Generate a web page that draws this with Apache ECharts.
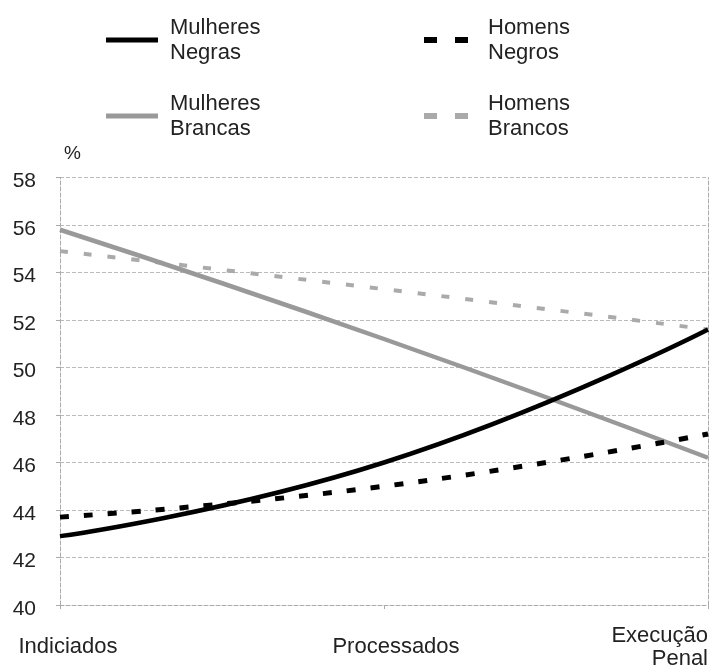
<!DOCTYPE html>
<html>
<head>
<meta charset="utf-8">
<script src="https://cdn.jsdelivr.net/npm/echarts@6/dist/echarts.min.js"></script>
<style>html,body{margin:0;padding:0;background:#fff}#c{width:710px;height:668px}</style>
</head>
<body>
<div id="c"></div>
<script>
var categories = ['Indiciados', 'Processados', 'Execução\nPenal'];
var yTicks = [40, 42, 44, 46, 48, 50, 52, 54, 56, 58];
var mulheresNegras = [42.9, 46.0, 51.6];
var homensNegros = [43.7, 45.0, 47.2];
var mulheresBrancas = [55.8, 51.2, 46.2];
var homensBrancos = [54.9, 53.3, 51.6];

var FONT = "'Liberation Sans', Arial, sans-serif";
var TXT = '#222';
var SOLID_ICON = 'path://M0,0H52V5H0Z';
var DASH_ICON = 'path://M0,0H13V6H0Z M31,0H44V6H31Z';
var chart = echarts.init(document.getElementById('c'));

function legendAt(name, left, top, w, h, pad, icon) {
  return {
    data: [{ name: name, icon: icon }], left: left, top: top, orient: 'vertical', padding: 0,
    itemWidth: w, itemHeight: h, selectedMode: false,
    textStyle: { fontFamily: FONT, fontSize: 22, lineHeight: 25, color: TXT, padding: [0, 0, 0, pad] }
  };
}

chart.setOption({
  animation: false,
  backgroundColor: '#fff',
  legend: [
    legendAt('Mulheres\nNegras', 106, 15, 52, 5, 7, SOLID_ICON),
    legendAt('Homens\nNegros', 424, 15, 44, 6, 15, DASH_ICON),
    legendAt('Mulheres\nBrancas', 106, 91, 52, 5, 7, SOLID_ICON),
    legendAt('Homens\nBrancos', 424, 91, 44, 6, 15, DASH_ICON)
  ],
  grid: { left: 60, right: 2, top: 177.5, bottom: 63, containLabel: false, outerBoundsMode: 'none' },
  xAxis: {
    type: 'category',
    boundaryGap: false,
    data: categories.map(function (c, i) {
      if (i === categories.length - 1) return { value: c, textStyle: { align: 'right', verticalAlign: 'middle', lineHeight: 23 } };
      return { value: c };
    }),
    axisLine: { show: true, lineStyle: { color: '#aaa', type: 'dashed', width: 1 } },
    axisTick: { show: true, length: 6, lineStyle: { color: '#aaa', type: 'dashed' } },
    axisLabel: {
      margin: 42, verticalAlign: 'middle', fontFamily: FONT, fontSize: 22, lineHeight: 23, color: TXT,
      formatter: function (v, i) { return i === 0 ? '{p|' + v + '}' : (i === 1 ? '{q|' + v + '}' : v); },
      rich: {
        p: { fontFamily: FONT, fontSize: 22, color: TXT, padding: [0, 0, 0, 16] },
        q: { fontFamily: FONT, fontSize: 22, color: TXT, padding: [0, 0, 0, 24] }
      }
    },
    splitLine: { show: false }
  },
  yAxis: [{
    type: 'value', min: 40, max: 58, interval: 2,
    name: '%', nameLocation: 'end', nameGap: 14,
    nameTextStyle: { fontFamily: FONT, fontSize: 19, color: TXT, align: 'left', verticalAlign: 'bottom', padding: [0, 0, 0, 4] },
    axisLine: { show: true, lineStyle: { color: '#aaa', type: 'dashed', width: 1 } },
    axisTick: { show: true, length: 6, lineStyle: { color: '#aaa', type: 'dashed' } },
    axisLabel: {
      margin: 24, fontFamily: FONT, fontSize: 21, color: TXT,
      formatter: function (v) { return yTicks.indexOf(v) >= 0 ? '{y|' + v + '}' : ''; },
      rich: { y: { fontFamily: FONT, fontSize: 21, color: TXT, padding: [8, 0, 0, 0] } }
    },
    splitLine: { show: true, lineStyle: { color: '#bbb', type: 'dashed', width: 1 } }
  }, {
    type: 'value', min: 40, max: 58, interval: 2, position: 'right',
    axisLine: { show: true, lineStyle: { color: '#aaa', type: 'dashed', width: 1 } },
    axisTick: { show: false }, axisLabel: { show: false }, splitLine: { show: false }
  }],
  series: [
    { name: 'Homens\nBrancos', type: 'line', data: homensBrancos, smooth: true, symbol: 'none',
      lineStyle: { color: '#aaa', width: 4, type: [8, 16] }, itemStyle: { color: '#aaa' } },
    { name: 'Mulheres\nBrancas', type: 'line', data: mulheresBrancas, smooth: true, symbol: 'none',
      lineStyle: { color: '#999', width: 4.5 }, itemStyle: { color: '#999' } },
    { name: 'Homens\nNegros', type: 'line', data: homensNegros, smooth: true, symbol: 'none',
      lineStyle: { color: '#000', width: 5, type: [9, 15] }, itemStyle: { color: '#000' } },
    { name: 'Mulheres\nNegras', type: 'line', data: mulheresNegras, smooth: true, symbol: 'none',
      lineStyle: { color: '#000', width: 4.5 }, itemStyle: { color: '#000' } }
  ]
});
</script>
</body>
</html>
